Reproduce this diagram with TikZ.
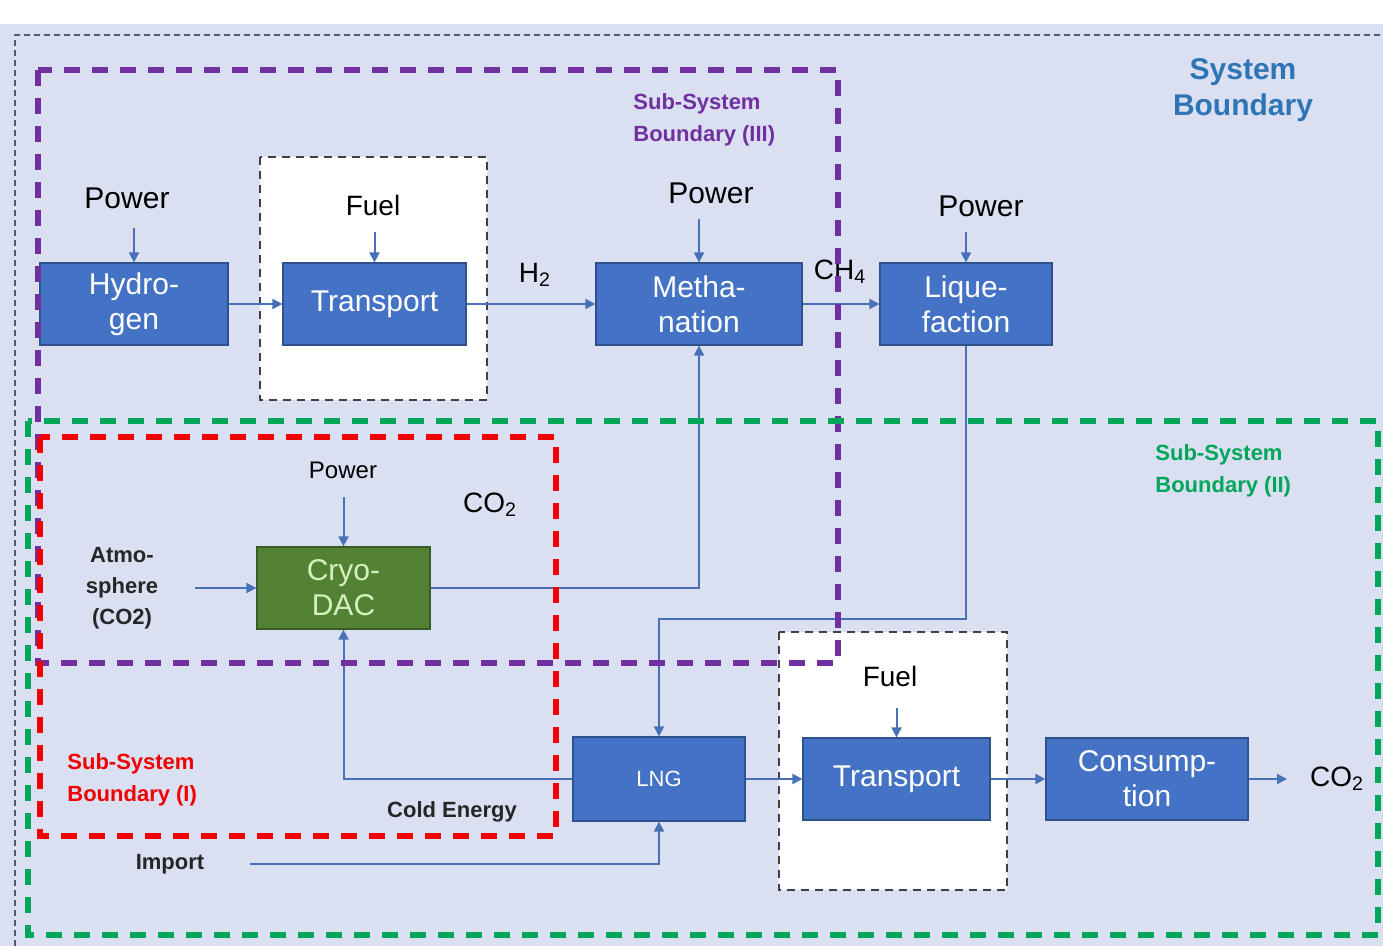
\documentclass[tikz,border=0pt]{standalone}
\usepackage{fontspec}
\setmainfont{Liberation Sans}
\usetikzlibrary{arrows.meta}
\definecolor{bgfill}{RGB}{218,224,241}
\definecolor{boxblue}{RGB}{68,114,196}
\definecolor{boxedge}{RGB}{47,82,143}
\definecolor{flowc}{RGB}{72,112,182}
\definecolor{dacfill}{RGB}{84,130,53}
\definecolor{dactext}{RGB}{214,240,190}
\definecolor{purp}{RGB}{112,48,160}
\definecolor{grn}{RGB}{0,166,90}
\definecolor{redb}{RGB}{240,0,0}
\definecolor{sysblue}{RGB}{46,117,182}
\definecolor{outerc}{RGB}{80,90,110}
\begin{document}
\begin{tikzpicture}[x=0.5pt,y=-0.5pt,
 proc/.style={rectangle, fill=boxblue, draw=boxedge, line width=0.6pt, text=white, align=center, font=\fontsize{15}{17.5}\selectfont, inner sep=0pt},
 flow/.style={draw=flowc, line width=1pt, -{Triangle[length=5pt,width=5pt]}},
 lbl/.style={font=\fontsize{15}{17}\selectfont, text=black, inner sep=1pt},
 blbl/.style={font=\bfseries\fontsize{11}{15.5}\selectfont, text=black!85, align=center, inner sep=1pt},
 bnd/.style={line width=3pt, dash pattern=on 8pt off 6pt},
 wbox/.style={fill=white, draw=black!75, line width=0.7pt, dash pattern=on 4pt off 3pt},
 sub/.style={font=\bfseries\fontsize{11}{16}\selectfont, align=left, anchor=west, inner sep=0pt}
]
\useasboundingbox (0,0) rectangle (1383,946);
\fill[white] (0,0) rectangle (1383,946);
\fill[bgfill] (0,24) rectangle (1383,946);
\draw[outerc, line width=0.8pt, dash pattern=on 3pt off 2pt] (15,946) -- (15,35) -- (1383,35);
\draw[wbox] (260,157) rectangle (487,400);
\draw[wbox] (779,632) rectangle (1007,890);

% process nodes
\node[proc, minimum width=94pt, minimum height=41pt] (hyd) at (134,304) {Hydro-\\gen};
\node[proc, minimum width=91.5pt, minimum height=41pt] (tr1) at (374.5,304) {Transport};
\node[proc, minimum width=103pt, minimum height=41pt] (meth) at (699,304) {Metha-\\nation};
\node[proc, minimum width=86pt, minimum height=41pt] (liq) at (966,304) {Lique-\\faction};
\node[proc, fill=dacfill, draw=dacfill!70!black, text=dactext, minimum width=86.5pt, minimum height=41pt] (dac) at (343.5,588) {Cryo-\\DAC};
\node[proc, font=\fontsize{11}{13}\selectfont, minimum width=86pt, minimum height=42pt] (lng) at (659,779) {LNG};
\node[proc, minimum width=93.5pt, minimum height=41pt] (tr2) at (896.5,779) {Transport};
\node[proc, minimum width=101pt, minimum height=41pt] (cons) at (1147,779) {Consump-\\tion};

% labels
\node[lbl] (pw1) at (127,198) {Power};
\node[lbl, font=\fontsize{14}{16}\selectfont] (fu1) at (373,205) {Fuel};
\node[lbl] (pw2) at (711,193) {Power};
\node[lbl] (pw3) at (981,206) {Power};
\node[lbl, font=\fontsize{12}{14}\selectfont] (pw4) at (343,470) {Power};
\node[lbl, font=\fontsize{14}{16}\selectfont] (fu2) at (890,676) {Fuel};
\node[lbl, font=\fontsize{14}{16}\selectfont] (h2) at (535,275) {H\textsubscript{2}};
\node[lbl, font=\fontsize{14}{16}\selectfont] (ch4) at (840,272) {CH\textsubscript{4}};
\node[lbl, font=\fontsize{14}{16}\selectfont] (co2a) at (490,505) {CO\textsubscript{2}};
\node[lbl, font=\fontsize{14}{16}\selectfont] (co2b) at (1337,779) {CO\textsubscript{2}};
\node[blbl] (atm) at (122,588) {Atmo-\\sphere\\(CO2)};
\node[blbl] (cold) at (452,812) {Cold Energy};
\node[blbl] (imp) at (170,864) {Import};
\node[font=\bfseries\fontsize{15}{18}\selectfont, text=sysblue, align=center] (sysb) at (1243,90) {System\\Boundary};
\node[sub, text=purp] (sub3) at (633,120) {Sub-System\\Boundary (III)};
\node[sub, text=grn] (sub2) at (1155,471) {Sub-System\\Boundary (II)};
\node[sub, text=redb] (sub1) at (67,780) {Sub-System\\Boundary (I)};

% coordinates
\coordinate (atmS) at (195,588);
\coordinate (lqT) at (966,619);
\coordinate (impS) at (250,864);
\coordinate (co2E) at (1287,779);

% connectors
\draw[flow] (hyd.north |- 0,228) -- (hyd.north);
\draw[flow] (tr1.north |- 0,232) -- (tr1.north);
\draw[flow] (meth.north |- 0,219) -- (meth.north);
\draw[flow] (liq.north |- 0,232) -- (liq.north);
\draw[flow] (dac.north |- 0,497) -- (dac.north);
\draw[flow] (tr2.north |- 0,708) -- (tr2.north);
\draw[flow] (hyd.east) -- (tr1.west);
\draw[flow] (tr1.east) -- (meth.west);
\draw[flow] (meth.east) -- (liq.west);
\draw[flow] (atmS) -- (dac.west);
\draw[flow] (dac.east) -| (meth.south);
\draw[flow] (liq.south) -- (lqT) -| (lng.north);
\draw[flow] (lng.west) -| (dac.south);
\draw[flow] (impS) -| (lng.south);
\draw[flow] (lng.east) -- (tr2.west);
\draw[flow] (tr2.east) -- (cons.west);
\draw[flow] (cons.east) -- (co2E);

% boundaries
\draw[bnd, purp] (38,70) rectangle (838,663);
\draw[bnd, grn] (28,421) rectangle (1378,935);
\draw[bnd, redb] (40,437) rectangle (556,836);
\end{tikzpicture}
\end{document}
